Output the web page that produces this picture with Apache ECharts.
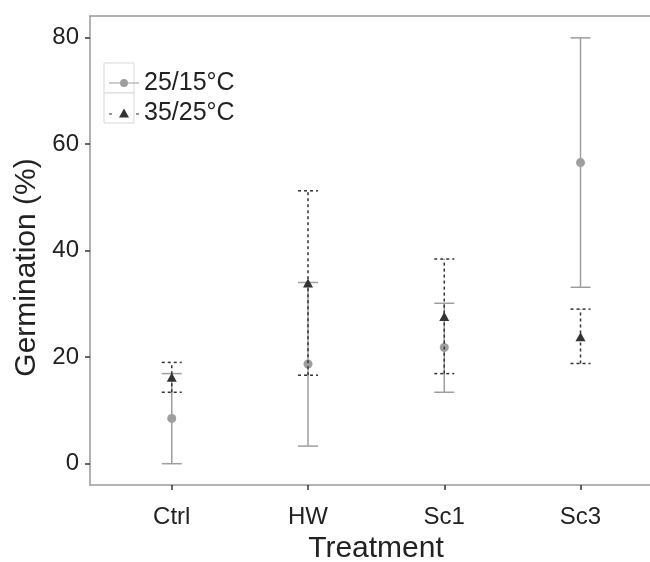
<!DOCTYPE html>
<html>
<head>
<meta charset="utf-8">
<script src="https://cdn.jsdelivr.net/npm/echarts@6/dist/echarts.min.js"></script>
<style>html,body{margin:0;padding:0;background:#fff;}#chart{width:650px;height:562px;}</style>
</head>
<body>
<div id="chart"></div>
<script>
const categories = ['Ctrl', 'HW', 'Sc1', 'Sc3'];
const seriesNames = ['25/15°C', '35/25°C'];
const mean1 = [8.5, 18.7, 21.8, 56.5];
const lower1 = [0, 3.3, 13.4, 33.1];
const upper1 = [16.9, 34.0, 30.1, 79.9];
const mean2 = [16.2, 33.9, 27.6, 23.8];
const lower2 = [13.4, 16.6, 16.9, 18.8];
const upper2 = [19.0, 51.2, 38.4, 29.0];
const yTicks = [0, 20, 40, 60, 80];
const xTicks = [1, 2, 3, 4];

const FONT = 'Liberation Sans, Arial, sans-serif';
const GREY = '#9e9e9e';
const DARK = '#333333';
const FRAME = '#999999';

function barData(lo, hi) { return categories.map((c, i) => [i + 1, lo[i], hi[i]]); }
function ptData(m) { return categories.map((c, i) => [i + 1, m[i]]); }

function makeRender(color, dash) {
  return function (params, api) {
    const x = api.value(0), lo = api.value(1), hi = api.value(2);
    const a = api.coord([x, lo]), b = api.coord([x, hi]);
    const hw = 10;
    const style = { stroke: color, lineWidth: 1.5, lineDash: dash, fill: null };
    return { type: 'group', children: [
      { type: 'line', shape: { x1: a[0], y1: a[1], x2: b[0], y2: b[1] }, style: style },
      { type: 'line', shape: { x1: a[0] - hw, y1: a[1], x2: a[0] + hw, y2: a[1] }, style: style },
      { type: 'line', shape: { x1: b[0] - hw, y1: b[1], x2: b[0] + hw, y2: b[1] }, style: style }
    ]};
  };
}

const iconCircle = 'path://M0,3.4 L30,3.4 L30,4.6 L0,4.6 Z M11,4 A4,4 0 1 1 19,4 A4,4 0 1 1 11,4 Z';
const iconTri = 'path://M0,5.4 L3,5.4 L3,6.6 L0,6.6 Z M10,9.5 L15,0.5 L20,9.5 Z M27,5.4 L30,5.4 L30,6.6 L27,6.6 Z';

const chart = echarts.init(document.getElementById('chart'), null, { renderer: 'canvas' });
chart.setOption({
  animation: false,
  backgroundColor: '#fff',
  textStyle: { fontFamily: FONT },
  grid: { left: 90, right: 0, top: 16, bottom: 77, show: false, containLabel: false, outerBoundsMode: 'none' },
  graphic: [
    { type: 'rect', z: 0, shape: { x: 104, y: 63, width: 30, height: 30 }, style: { fill: '#fff', stroke: '#d9d9d9', lineWidth: 1 } },
    { type: 'rect', z: 0, shape: { x: 104, y: 93, width: 30, height: 30 }, style: { fill: '#fff', stroke: '#d9d9d9', lineWidth: 1 } }
  ],
  legend: {
    orient: 'vertical', left: 104, top: 63, itemWidth: 30, itemHeight: 30, itemGap: 0, z: 10,
    symbolKeepAspect: true,
    data: [
      { name: seriesNames[0], icon: iconCircle },
      { name: seriesNames[1], icon: iconTri }
    ],
    textStyle: { fontSize: 25, lineHeight: 30, color: '#222', fontFamily: FONT }
  },
  xAxis: [{
    type: 'value', min: 0.4, max: 4.51,
    name: 'Treatment', nameLocation: 'middle', nameGap: 48,
    nameTextStyle: { fontSize: 30, color: '#222', fontFamily: FONT, padding: [0, 0, 0, 12] },
    splitLine: { show: false },
    axisLine: { show: true, onZero: false, lineStyle: { color: FRAME, width: 1.5 } },
    axisTick: { show: true, length: 5, customValues: xTicks, lineStyle: { color: '#333', width: 1.5 } },
    axisLabel: { customValues: xTicks, margin: 20, fontSize: 24, color: '#222', fontFamily: FONT,
      formatter: v => categories[Math.round(v) - 1] }
  }, {
    type: 'value', min: 0.4, max: 4.51, position: 'top',
    splitLine: { show: false },
    axisLine: { show: true, onZero: false, lineStyle: { color: FRAME, width: 1.5 } },
    axisTick: { show: false }, axisLabel: { show: false }
  }],
  yAxis: {
    type: 'value', min: -4, max: 84,
    name: 'Germination (%)', nameLocation: 'middle', nameGap: 46,
    nameTextStyle: { fontSize: 30, color: '#222', fontFamily: FONT, padding: [0, 34, 0, 0] },
    splitLine: { show: false },
    axisLine: { show: true, onZero: false, lineStyle: { color: FRAME, width: 1.5 } },
    axisTick: { show: true, length: 5, customValues: yTicks, lineStyle: { color: '#333', width: 1.5 } },
    axisLabel: { customValues: yTicks, margin: 11, fontSize: 24, color: '#222', fontFamily: FONT }
  },
  series: [
    { type: 'custom', name: seriesNames[0], data: barData(lower1, upper1), renderItem: makeRender(GREY, null), z: 2, itemStyle: { color: GREY } },
    { type: 'scatter', name: seriesNames[0], data: ptData(mean1), symbol: 'circle', symbolSize: 9, itemStyle: { color: GREY, opacity: 1 }, z: 3 },
    { type: 'custom', name: seriesNames[1], data: barData(lower2, upper2), renderItem: makeRender(DARK, [3, 3]), z: 4, itemStyle: { color: DARK } },
    { type: 'scatter', name: seriesNames[1], data: ptData(mean2), symbol: 'triangle', symbolSize: [10, 9], itemStyle: { color: DARK, opacity: 1 }, z: 5 }
  ]
});
</script>
</body>
</html>
